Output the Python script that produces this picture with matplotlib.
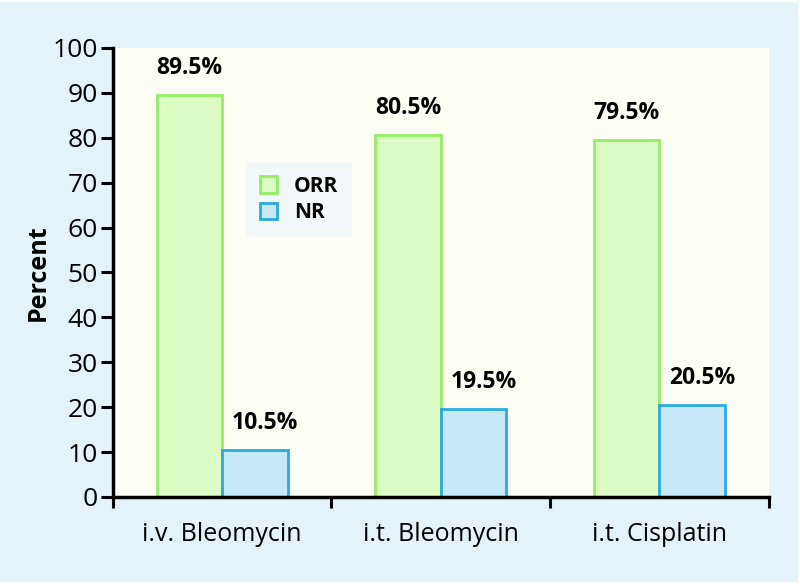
import matplotlib
matplotlib.use("Agg")
import matplotlib.pyplot as plt
from matplotlib.patches import Rectangle
import numpy as np

categories = ["i.v. Bleomycin", "i.t. Bleomycin", "i.t. Cisplatin"]
orr = [89.5, 80.5, 79.5]
nr = [10.5, 19.5, 20.5]
series_names = ["ORR", "NR"]
yticks = [0, 10, 20, 30, 40, 50, 60, 70, 80, 90, 100]

plt.rcParams['font.family'] = ['Open Sans', 'DejaVu Sans']

bg = "#e4f3fa"
fig = plt.figure(figsize=(8, 5.84), dpi=100, facecolor="white")
fig.patches.append(Rectangle((0.0, 0.003), 0.9975, 0.9935, transform=fig.transFigure,
                             facecolor=bg, edgecolor="none", zorder=-10))
ax = fig.add_axes([0.141, 0.149, 0.820, 0.769])
ax.set_facecolor("#fffff6")

x = np.arange(len(categories)) + 0.5
w = 0.3
b1 = ax.bar(x - w/2, orr, w, color="#dcfcc6", edgecolor="#93ee62", linewidth=2, label=series_names[0], zorder=2)
b2 = ax.bar(x + w/2, nr, w, color="#c6e9f5", edgecolor="#2aaae2", linewidth=2, label=series_names[1], zorder=2)

for xi, v in zip(x - w/2, orr):
    ax.annotate(f"{v:.1f}%", (xi, v), xytext=(0, 11), textcoords="offset points",
                ha="center", va="bottom", fontsize=16.5, fontweight="bold")
for xi, v in zip(x + w/2, nr):
    ax.annotate(f"{v:.1f}%", (xi, v), xytext=(7, 11), textcoords="offset points",
                ha="center", va="bottom", fontsize=16.5, fontweight="bold")

ax.set_xlim(0, 3)
ax.set_ylim(0, 100)
ax.set_yticks(yticks)
ax.set_xticks(x)
ax.set_xticklabels(categories)
ax.set_xticks([0, 1, 2, 3], minor=True)
ax.tick_params(axis="x", which="major", length=0, pad=18, labelsize=18)
ax.tick_params(axis="x", which="minor", length=8, width=2.2, direction="out")
ax.tick_params(axis="y", length=9, width=2.2, pad=2, labelsize=19)

for s in ["top", "right"]:
    ax.spines[s].set_visible(False)
for s in ["left", "bottom"]:
    ax.spines[s].set_linewidth(2.5)

ax.set_ylabel("Percent", fontsize=18, fontweight="bold", labelpad=1)

leg = ax.legend(loc="upper left", bbox_to_anchor=(0.203, 0.745), frameon=True,
                fontsize=15, handlelength=0.85, handleheight=0.85, borderpad=0.65,
                fancybox=False, labelspacing=0.25, handletextpad=0.8, borderaxespad=0)
leg.get_frame().set_facecolor("#f3f8fa")
leg.get_frame().set_edgecolor("none")
leg.get_frame().set_alpha(1)
for t in leg.get_texts():
    t.set_fontweight("bold")

fig.savefig("out.png", dpi=100, facecolor=fig.get_facecolor())
